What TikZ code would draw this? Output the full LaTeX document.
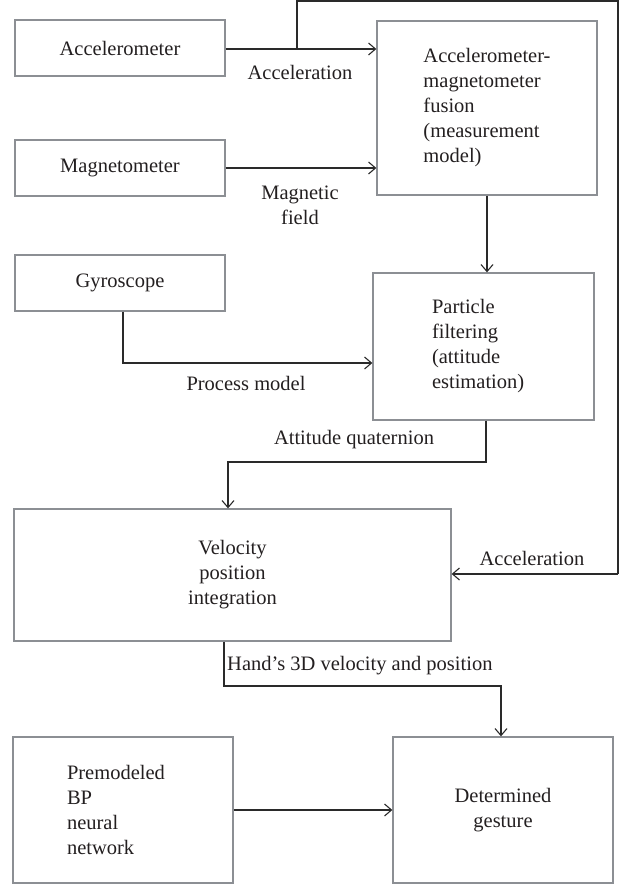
\documentclass[tikz,border=0pt]{standalone}
\usepackage{fontspec}
\setmainfont{Liberation Serif}
\usetikzlibrary{arrows.meta}
\definecolor{boxgray}{HTML}{8C8F94}
\definecolor{linegray}{HTML}{2A2A2A}
\definecolor{txt}{HTML}{231F20}
\tikzset{
  blk/.style={draw=boxgray, line width=1.3pt, fill=white, inner sep=0pt, text=txt, font=\fontsize{20.5}{25}\selectfont},
  lbl/.style={inner sep=0pt, text=txt, font=\fontsize{20.5}{25}\selectfont},
  conn/.style={draw=linegray, line width=1.1pt, -{Straight Barb[length=7pt,width=12pt,line width=1.1pt]}},
  wire/.style={draw=linegray, line width=1.1pt}
}
\begin{document}
\begin{tikzpicture}[x=1pt,y=-1pt]
\useasboundingbox (0,0) rectangle (628,885);
% boxes
\node[blk, minimum width=210, minimum height=56] (acc) at (120,48) {Accelerometer};
\node[blk, minimum width=210, minimum height=56] (mag) at (120,168) {Magnetometer};
\node[blk, minimum width=220, minimum height=174, align=left] (fus) at (487,108) {Accelerometer-\\magnetometer\\fusion\\(measurement\\model)};
\node[blk, minimum width=210, minimum height=56] (gyro) at (120,283) {Gyroscope};
\node[blk, minimum width=221, minimum height=147, align=left, inner xsep=59pt, text width=103pt] (part) at (483.5,346.5) {Particle\\filtering\\(attitude\\estimation)};
\node[blk, minimum width=437, minimum height=132, align=center] (vel) at (232.5,575) {Velocity\\position\\integration};
\node[blk, minimum width=220, minimum height=146, align=left, inner xsep=54pt, text width=112pt] (pre) at (123,810) {Premodeled\\BP\\neural\\network};
\node[blk, minimum width=220, minimum height=146, align=center] (det) at (503,810) {Determined\\gesture};
% coordinates
\coordinate (accsplit) at (297,49);
\coordinate (looptl) at (297,1);
\coordinate (looptr) at (618,1);
\coordinate (loopbr) at (618,574);
\coordinate (gyrocorner) at (123,363);
\coordinate (att1) at (486,462);
\coordinate (att2) at (228,462);
\coordinate (hand1) at (224,686);
\coordinate (hand2) at (501,686);
% connectors
\draw[conn] (acc.east |- 0,49) -- (fus.west |- 0,49);
\draw[wire] (accsplit) -- (looptl) -- (looptr) -- (loopbr);
\draw[conn] (loopbr) -- (vel.east |- loopbr);
\draw[conn] (mag.east |- 0,168) -- (fus.west |- 0,168);
\draw[conn] (fus.south -| 487,0) -- (part.north -| 487,0);
\draw[conn] (gyro.south -| gyrocorner) -- (gyrocorner) -- (part.west |- gyrocorner);
\draw[conn] (part.south -| att1) -- (att1) -- (att2) -- (vel.north -| att2);
\draw[conn] (vel.south -| hand1) -- (hand1) -- (hand2) -- (det.north -| hand2);
\draw[conn] (pre.east |- 0,810) -- (det.west |- 0,810);
% labels
\node[lbl] (l1) at (300,72) {Acceleration};
\node[lbl, align=center] (l2) at (300,205) {Magnetic\\field};
\node[lbl] (l3) at (246,383) {Process model};
\node[lbl] (l4) at (354,440) {Attitude quaternion};
\node[lbl] (l5) at (532,558) {Acceleration};
\node[lbl, anchor=west] (l6) at (227,666) {Hand’s 3D velocity and position};
\end{tikzpicture}
\end{document}
